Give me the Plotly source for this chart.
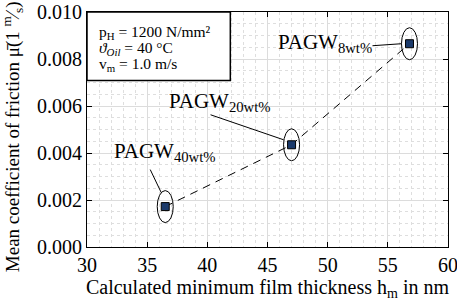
import plotly.graph_objects as go

film_thickness = [36.5, 47.0, 56.8]
friction = [0.00172, 0.00435, 0.00865]
labels = ["PAGW<sub>40wt%</sub>", "PAGW<sub>20wt%</sub>", "PAGW<sub>8wt%</sub>"]
x_ticks = [30, 35, 40, 45, 50, 55, 60]
y_ticks = [0.000, 0.002, 0.004, 0.006, 0.008, 0.010]
box_lines = ["p<sub>H</sub> = 1200 N/mm²", "<i>ϑ<sub>Oil</sub></i> = 40 °C", "v<sub>m</sub> = 1.0 m/s"]
y_title = "Mean coefficient of friction μ̄(1 <sup>m</sup>⁄<sub>s</sub>)"
x_title = "Calculated minimum film thickness h<sub>m</sub> in nm"

FONT = "Liberation Serif"

fig = go.Figure()
fig.add_trace(go.Scatter(
    x=film_thickness, y=friction, mode="lines+markers",
    line=dict(color="black", width=1, dash="8px,6px"),
    marker=dict(symbol="square", size=8, color="#1b3a6b", line=dict(color="black", width=1)),
    showlegend=False, cliponaxis=False,
))

# label positions relative to each point (pixels)
label_off = [(-53, 55), (-125, 43), (-133, 1)]
leader = [((-15, 37), (-4, 14)), ((-81, 30), (-8, 5)), ((-37, -2), (-8, 0))]

for xv, yv, lab, (dx, dy), ((a0, b0), (a1, b1)) in zip(film_thickness, friction, labels, label_off, leader):
    fig.add_shape(type="circle", xref="x", yref="y", xsizemode="pixel", ysizemode="pixel",
                  xanchor=xv, yanchor=yv, x0=-8, x1=8, y0=-16, y1=16,
                  line=dict(color="black", width=1))
    fig.add_shape(type="line", xref="x", yref="y", xsizemode="pixel", ysizemode="pixel",
                  xanchor=xv, yanchor=yv, x0=a0, x1=a1, y0=b0, y1=b1,
                  line=dict(color="black", width=1))
    fig.add_annotation(x=xv, y=yv, xref="x", yref="y", text=lab, showarrow=False,
                       xanchor="left", yanchor="middle", xshift=dx, yshift=dy,
                       font=dict(family=FONT, size=21, color="black"))

# parameter box
fig.add_shape(type="rect", xref="paper", yref="paper", x0=0, x1=0.397, y0=0.709, y1=1,
              fillcolor="white", line=dict(color="black", width=1.5), layer="above")
for i, t in enumerate(box_lines):
    fig.add_annotation(x=0.027, y=0.912 - i * 0.068, xref="paper", yref="paper", text=t,
                       showarrow=False, xanchor="left", yanchor="middle",
                       font=dict(family=FONT, size=15.5, color="black"))

# y-axis title as rotated annotation
fig.add_annotation(x=-0.206, y=0.47, xref="paper", yref="paper", text=y_title,
                   textangle=-90, showarrow=False, xanchor="center", yanchor="middle",
                   font=dict(family=FONT, size=19, color="black"))

axis_common = dict(
    showline=True, linecolor="black", linewidth=1, mirror="ticks",
    ticks="inside", ticklen=5, tickcolor="black",
    showgrid=True, gridcolor="#dcdcdc", gridwidth=1, zeroline=False, automargin=False,
    ticklabeloverflow="allow",
    tickfont=dict(family=FONT, size=20, color="black"),
)

fig.update_xaxes(range=[30, 60], tickvals=x_ticks, ticktext=[str(v) for v in x_ticks],
                 minor=dict(dtick=1, showgrid=True, griddash="dot", gridcolor="#dedede", ticks=""),
                 title=dict(text=x_title, font=dict(family=FONT, size=20, color="black"), standoff=4),
                 **axis_common)
fig.update_yaxes(range=[0, 0.010], tickvals=y_ticks, ticktext=[f"{v:.3f}" for v in y_ticks],
                 minor=dict(dtick=0.0005, showgrid=True, griddash="dot", gridcolor="#dedede", ticks=""),
                 **axis_common)

fig.update_layout(
    width=457, height=307,
    margin=dict(l=87, r=9, t=12, b=60),
    plot_bgcolor="white", paper_bgcolor="white",
    font=dict(family=FONT, color="black"),
)

fig.write_html("out.html", config={"displayModeBar": False},
               post_script="document.body.style.margin='0';document.body.style.overflow='hidden';")
